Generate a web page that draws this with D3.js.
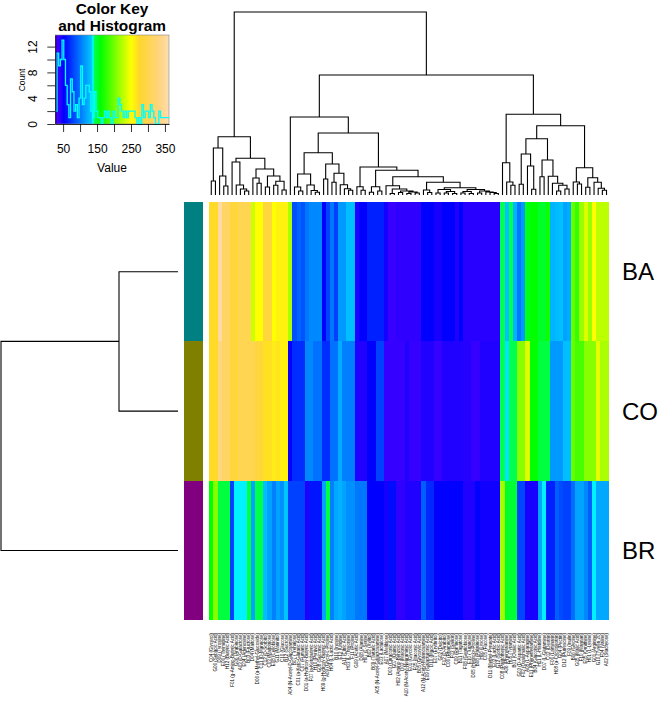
<!DOCTYPE html>
<html><head><meta charset="utf-8">
<script src="https://d3js.org/d3.v7.min.js"></script>
<style>html,body{margin:0;padding:0;background:#fff}svg{display:block}text{font-family:"Liberation Sans",Arial,sans-serif;fill:#000}</style>
</head><body><svg id="c" width="660" height="705"></svg>
<script>
const rowNames = ["BA","CO","BR"];
const rowColors = ["#008080","#808000","#800080"];
const colNames = ["C04 (Glycerol)","G06 (Sebacic Acid)","D09 (Tyrosine)","E06 (Thymidine)","H12 (Butyric Acid)","F01 (g-Amino-Butyric Acid)","G06 (Arabinose)","A03 (D-Galactose)","E04 (Adenosine)","B03 (Fructose)","D04 (Maltose)","D06 (a-Methyl-Glucoside)","C11 (D-Mannose)","C12 (D-Sorbitol)","C03 (Maltotriose)","E08 (Cellobiose)","G11 (Mannitol)","C10 (Glucose)","B12 (Sucrose)","A04 (N-Acetyl-D-Glucosamine)","B07 (Trehalose)","C01 (a-Keto-Glutaric Acid)","C07 (Fumaric Acid)","D01 (a-Hydroxy-Butyric Acid)","F07 (a-Ketobutyric Acid)","H10 (Pyruvic Acid)","G08 (Succinic Acid)","H09 (g-Hydroxy-Butyric Acid)","A09 (Glycyl-L-Proline)","H04 (L-Lactic Acid)","B10 (Inosine)","E12 (Uridine)","A11 (Citric Acid)","H03 (L-Threonine)","F11 (Proline)","G09 (Acetic Acid)","D08 (Alanine)","H07 (L-Serine)","B02 (Xylitol)","B09 (Tartaric Acid)","A05 (N-Acetyl-Galactosamine)","E03 (Lactulose)","A07 (Melibiose)","D03 (Citraconic Acid)","G07 (Quinic Acid)","H02 (Amino-Benzoic Acid)","D02 (Malonic Acid)","A10 (N-Acetyl-Neuraminic Acid)","E01 (Glycolic Acid)","F05 (Itaconic Acid)","B05 (Glyoxylic Acid)","A12 (N-Acetyl-Mannosamine)","E09 (Galacturonic Acid)","D10 (Mucic Acid)","E07 (Erythritol)","G02 (Dulcitol)","F12 (D-Arabitol)","C06 (Rhamnose)","F03 (Salicin)","C09 (Raffinose)","B11 (Tagatose)","F08 (Gentiobiose)","E10 (Turanose)","D05 (Hydroxy-Proline)","B08 (Palatinose)","H06 (Lyxose)","C05 (Fucose)","D11 (Methyl-Pyruvate)","E02 (Lactic Acid)","G12 (Sorbic Acid)","C08 (Pantothenic Acid)","A06 (Phenylalanine)","H05 (Tyramine)","B01 (Oxalic Acid)","G03 (D-Aspartic Acid)","F02 (Oxalomalic Acid)","A08 (L-Asparagine)","E11 (Phenethylamine)","B04 (Gluconic Acid)","H11 (L-Histidine)","D07 (L-Glutamine)","C02 (Dextrin)","F06 (Laminarin)","H08 (a-Cyclodextrin)","G04 (Pectin)","D12 (Putrescine)","F09 (Inulin)","B06 (Glycine)","G05 (Malic Acid)","F10 (Mannan)","E05 (Ornithine)","H01 (L-Lysine)","G01 (Arginine)","G10 (Tween 20)","F04 (Valine)","A02 (Stachyose)"];
const valuesBA = [272,272,355,315,315,285,285,300,300,300,232,250,250,285,285,250,258,258,258,220,
84,93,86,100,107,107,107,52,79,100,78,114,114,129,129,44,52,52,65,65,65,65,47,37,37,
40,40,40,40,40,40,52,52,52,46,46,52,52,52,44,52,
42,42,42,42,42,42,42,42,42,
141,130,141,125,100,114,155,160,160,150,150,165,125,128,130,118,122,196,178,214,238,214,250,226,226,226];
const valuesCO = [272,272,335,315,315,285,285,300,300,300,300,285,285,268,268,262,266,258,258,
50,70,70,70,107,107,98,98,70,70,98,98,122,104,104,104,44,44,44,52,52,78,78,38,38,38,
38,38,44,38,38,38,44,44,44,38,38,44,44,44,44,44,43,43,38,38,44,44,44,44,44,
141,135,141,141,208,208,238,160,160,145,145,145,114,114,114,129,129,196,185,185,208,208,208,240,220,220];
const valuesBR = [160,208,145,145,145,78,136,136,136,145,118,143,143,129,118,104,118,110,132,
78,78,78,78,44,60,60,60,118,145,104,120,124,118,110,110,100,100,100,52,52,52,52,47,56,56,
40,40,44,44,44,44,90,68,68,52,52,52,52,52,52,52,44,44,44,52,48,48,48,48,48,
218,150,148,148,80,80,46,46,46,118,136,65,65,90,82,78,78,96,118,118,107,90,136,120,120,120];
const colorDomain = [27,40,52,133,137,139,141,160,250,275,330,362];
const colorRange = ["#5000ff","#3000ff","#0000ff","#00c8ff","#00ffff","#00ffc0","#00ff50","#00ff00","#ffff00","#ffd62e","#ffd47a","#ffdcb0"];
const histStart = 27, histStep = 5;
const histCounts = [2,11,9,10,13,10,6,3,1,7,5,2,3,1,4,9,3,4,6,6,5,2,1,5,2,1,1,0,1,2,1,2,1,0,2,1,1,4,3,2,1,2,1,2,2,2,2,1,0,1,0,3,1,2,2,1,3,2,1,0,0,2,1,1,1,1,1];
const keyTicksX = [50,100,150,200,250,300,350];
const keyLabelsX = [50,150,250,350];
const keyTicksY = [0,2,4,6,8,10,12];
const keyLabelsY = [0,4,8,12];
const L = 0; // a leaf; a node is [merge height, left, right]
const treeA = [58.3,[47,[14,L,L],[19,L,[9,L,L]]],[36.7,[33,L,[10,L,[6,L,[4,L,L]]]],[26,[17,L,[11.7,L,L]],[19,[8,L,L],[13.7,[9.7,L,L],[5,L,L]]]]]];
const treeCL = [42.3,[21,[8,L,[4,L,L]],[10,L,[4.5,L,[2.7,L,L]]]],[31,[16,L,L],[21.7,[12.7,L,L],[10.3,L,[6.3,L,[4.7,L,L]]]]]];
const treeCR = [28,[8.3,L,[4.7,L,L]],[24.7,[8.3,[2.7,L,L],[4,L,L]],[18.3,[9.3,L,[6,[1.5,L,L],[4,[2.5,L,L],[3,[1.5,L,L],[2,L,L]]]]],[12.7,[5,L,[2.5,L,L]],[7.3,[5.5,[2,L,L],[3.5,[2,L,L],[1.5,L,L]]],[5.5,[3.5,[2,L,L],[1.5,L,L]],[4,[2,L,L],[3,L,[2.5,L,[1.5,L,L]]]]]]]]]];
const treeD = [80.7,[32.3,L,[13,L,[9.7,L,L]]],[69.3,[56.3,[41,[10.7,L,L],[29,L,[5.7,L,L]]],[35,[18.3,L,L],[18.7,L,[11.7,L,[9.7,[4,L,L],[6,L,L]]]]]],[27.3,[13,L,[11,L,L]],[17.3,[7.7,L,L],[12.7,L,[6.7,L,[4.7,L,L]]]]]]];
const colTree = [183,treeA,[120,[78,L,[62,treeCL,treeCR]],treeD]];
const rowTree = [177,[59,L,L],L];

const svg = d3.select("#c");
const color = d3.scaleLinear().domain(colorDomain).range(colorRange).clamp(true);
const idx = d3.range(colNames.length);
const xBand = d3.scaleBand().domain(idx).range([209.2,608.6]);
const yBand = d3.scaleBand().domain(rowNames).range([202,620.2]);
const rows = [valuesBA,valuesCO,valuesBR];

// heat cells
rowNames.forEach((r,ri)=>{
  svg.append("g").attr("shape-rendering","crispEdges").selectAll("rect").data(rows[ri]).join("rect")
    .attr("x",(d,i)=>xBand(i)).attr("y",yBand(r)).attr("width",xBand.bandwidth()+0.4).attr("height",yBand.bandwidth())
    .attr("fill",d=>color(d));
});
// side colours
svg.append("g").attr("shape-rendering","crispEdges").selectAll("rect").data(rowNames).join("rect")
  .attr("x",184).attr("width",19).attr("y",d=>yBand(d)).attr("height",yBand.bandwidth())
  .attr("fill",(d,i)=>rowColors[i]);
// row labels
svg.append("g").selectAll("text").data(rowNames).join("text")
  .attr("x",622).attr("y",d=>yBand(d)+yBand.bandwidth()/2+8.6).attr("font-size",24).text(d=>d);
// column labels
svg.append("g").selectAll("text").data(colNames).join("text")
  .attr("text-anchor","end").attr("font-size",4.5)
  .attr("transform",(d,i)=>`translate(${xBand(i)+xBand.bandwidth()/2+1.5},633) rotate(-90)`).text(d=>d);

// dendrograms
function drawTree(data, leafPos, hScale, vertical){
  const root = d3.hierarchy(data, d=>d===L?null:[d[1],d[2]]);
  const leaves = root.leaves(); leaves.forEach((n,i)=>{n.pos=leafPos(i);});
  const p = d3.path();
  const pt = (a,b)=>vertical?[a,b]:[b,a];
  root.eachAfter(n=>{
    if(!n.children) return;
    const [a,b]=n.children; n.pos=(a.pos+b.pos)/2;
    const h=hScale(n.data[0]);
    const ya=a.children?hScale(a.data[0]):hScale(0), yb=b.children?hScale(b.data[0]):hScale(0);
    p.moveTo(...pt(a.pos,ya)); p.lineTo(...pt(a.pos,h)); p.lineTo(...pt(b.pos,h)); p.lineTo(...pt(b.pos,yb));
  });
  svg.append("path").attr("d",p.toString()).attr("fill","none").attr("stroke","#000").attr("stroke-width",1.1);
}
drawTree(colTree,i=>xBand(i)+xBand.bandwidth()/2,d3.scaleLinear().domain([0,183]).range([195,12]),true);
drawTree(rowTree,i=>yBand(rowNames[i])+yBand.bandwidth()/2,d3.scaleLinear().domain([0,177]).range([178,1]),false);

// key
const kx = d3.scaleLinear().domain([27,362]).range([55.3,169]);
const ky = d3.scaleLinear().domain([0,13.8]).range([124,35]);
svg.append("g").attr("shape-rendering","crispEdges").selectAll("rect").data(d3.range(27,362)).join("rect")
  .attr("x",d=>kx(d)).attr("width",kx(1)-kx(0)+0.4).attr("y",ky(13.8)).attr("height",ky(0)-ky(13.8))
  .attr("fill",d=>color(d));
svg.append("rect").attr("x",55.3).attr("y",35).attr("width",113.7).attr("height",89).attr("fill","none").attr("stroke","#888").attr("stroke-width",0.6);
const histLine = d3.line().x((d,i)=>kx(histStart+i*histStep)).y(d=>ky(d)).curve(d3.curveStepAfter);
svg.append("path").attr("d",histLine(histCounts.concat(histCounts[histCounts.length-1]))).attr("fill","none").attr("stroke","#00ffff").attr("stroke-width",1.3);

const ax = svg.append("g").attr("transform","translate(0,124)")
  .call(d3.axisBottom(kx).tickValues(keyTicksX).tickSize(8).tickSizeOuter(0).tickFormat(d=>keyLabelsX.includes(d)?d:""));
ax.selectAll("text").attr("font-size",12).attr("y",20).attr("font-family","Liberation Sans");
const ay = svg.append("g").attr("transform","translate(55.3,0)")
  .call(d3.axisLeft(ky).tickValues(keyTicksY).tickSize(8).tickSizeOuter(0).tickFormat(d=>keyLabelsY.includes(d)?d:""));
ay.selectAll("text").attr("font-size",12).attr("font-family","Liberation Sans").attr("text-anchor","middle")
  .attr("dy",0).attr("x",0).attr("y",0)
  .attr("transform","translate(-18,0) rotate(-90)");
svg.selectAll(".domain, .tick line").attr("stroke","#000").attr("stroke-width",0.8);

const kt = svg.append("g").attr("font-weight","bold").attr("font-size",15.4).attr("text-anchor","middle");
kt.append("text").attr("x",112).attr("y",14).text("Color Key");
kt.append("text").attr("x",112).attr("y",31).text("and Histogram");
svg.append("text").attr("x",112).attr("y",172).attr("text-anchor","middle").attr("font-size",12).text("Value");
svg.append("text").attr("transform","translate(24.5,80) rotate(-90)").attr("text-anchor","middle").attr("font-size",8.5).text("Count");
</script></body></html>
